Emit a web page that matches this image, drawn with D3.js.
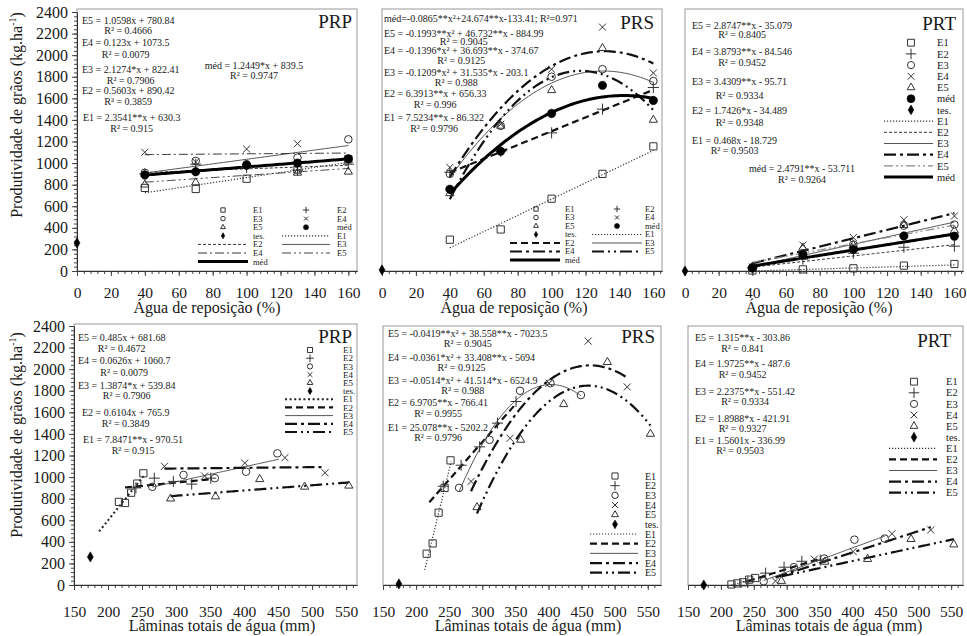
<!DOCTYPE html>
<html>
<head>
<meta charset="utf-8">
<script src="https://cdn.jsdelivr.net/npm/d3@7"></script>
<style>
  body { margin: 0; background: #fff; }
  text { font-family: "Liberation Serif", "Times New Roman", serif; fill: #1a1a1a; }
</style>
</head>
<body>
<script>
// ---------------- data ----------------
const reposicao = [40, 70, 100, 130, 160];          // água de reposição (%)
const reposicaoTes = 0;
const laminaE1 = [216, 225, 234, 243, 252];          // lâminas totais (mm)
const laminaE2 = [241, 268, 296, 323, 351];
const laminaE3 = [265, 311, 357, 403, 449];
const laminaE4 = [283, 342, 401, 460, 519];
const laminaE5 = [292, 358, 423, 489, 554];
const laminaTes = 174;

const prpE1 = [770, 760, 855, 940, 1035];
const prpE2 = [900, 990, 960, 935, 990];
const prpE3 = [910, 1020, 990, 1050, 1220];
const prpE4 = [1100, 1010, 1130, 1180, 1040];
const prpE5 = [800, 820, 980, 910, 920];
const prpMed = [890, 920, 980, 1000, 1040];
const prpTes = 260;

const prsE1 = [290, 385, 670, 900, 1155];
const prsE2 = [915, 1110, 1280, 1500, 1700];
const prsE3 = [900, 1345, 1800, 1870, 1760];
const prsE4 = [960, 1360, 1870, 2260, 1835];
const prsE5 = [720, 1345, 1675, 2065, 1400];
const prsMed = [757, 1110, 1460, 1720, 1580];
const prsTes = 10;

const prtE1 = [5, 15, 25, 50, 65];
const prtE2 = [30, 110, 165, 220, 230];
const prtE3 = [35, 165, 245, 420, 430];
const prtE4 = [37, 240, 310, 475, 510];
const prtE5 = [37, 215, 240, 425, 375];
const prtMed = [28, 150, 200, 325, 322];
const prtTes = 0;

// fitted polynomials, highest power first; order E1..E5 (, méd)
const fitPrpRep = [[2.3541, 630.3], [0.5603, 890.42], [2.1274, 822.41], [0.123, 1073.5], [1.0598, 780.84], [1.2449, 839.5]];
const fitPrsRep = [[7.5234, -86.322], [6.3913, 656.33], [-0.1209, 31.535, -203.1], [-0.1396, 36.693, -374.67], [-0.1993, 46.732, -884.99], [-0.0865, 24.674, -133.41]];
const fitPrtRep = [[0.468, -18.729], [1.7426, -34.489], [3.4309, -95.71], [3.8793, -84.546], [2.8747, -35.079], [2.4791, -53.711]];
const fitPrpLam = [[7.8471, -970.51], [0.6104, 765.9], [1.3874, 539.84], [0.0626, 1060.7], [0.485, 681.68]];
const fitPrsLam = [[25.078, -5202.2], [6.9705, -766.41], [-0.0514, 41.514, -6524.9], [-0.0361, 33.408, -5694], [-0.0419, 38.558, -7023.5]];
const fitPrtLam = [[1.5601, -336.99], [1.8988, -421.91], [2.2375, -551.42], [1.9725, -487.6], [1.315, -303.86]];

// x extent of each fitted curve
const spanRep = [40, 160];
const spanPrpLam = [[187, 254], [225, 352], [265, 451], [283, 515], [292, 554]];
const spanPrsLam = [[213, 253], [220, 352], [265, 449], [283, 519], [292, 554]];
const spanPrtLam = [[216, 252], [241, 351], [265, 449], [283, 519], [292, 554]];

// equation labels (E5 first, as listed on the plots)
const eqPrpRep = ["E5 = 1.0598x + 780.84", "E4 = 0.123x + 1073.5", "E3 = 2.1274*x + 822.41", "E2 = 0.5603x + 890.42", "E1 = 2.3541**x + 630.3", "méd = 1.2449*x + 839.5"];
const r2PrpRep = ["0.4666", "0.0079", "0.7906", "0.3859", "0.915", "0.9747"];
const eqPrsRep = ["E5 = -0.1993**x² + 46.732**x - 884.99", "E4 = -0.1396*x² + 36.693**x - 374.67", "E3 = -0.1209*x² + 31.535*x - 203.1", "E2 = 6.3913**x + 656.33", "E1 = 7.5234**x - 86.322", "méd=-0.0865**x²+24.674**x-133.41; R²=0.971"];
const r2PrsRep = ["0.9045", "0.9125", "0.988", "0.996", "0.9796", null];
const eqPrtRep = ["E5 = 2.8747**x - 35.079", "E4 = 3.8793**x - 84.546", "E3 = 3.4309**x - 95.71", "E2 = 1.7426*x - 34.489", "E1 = 0.468x - 18.729", "méd = 2.4791**x - 53.711"];
const r2PrtRep = ["0.8405", "0.9452", "0.9334", "0.9348", "0.9503", "0.9264"];
const eqPrpLam = ["E5 = 0.485x + 681.68", "E4 = 0.0626x + 1060.7", "E3 = 1.3874*x + 539.84", "E2 = 0.6104x + 765.9", "E1 = 7.8471**x - 970.51"];
const r2PrpLam = ["0.4672", "0.0079", "0.7906", "0.3849", "0.915"];
const eqPrsLam = ["E5 = -0.0419**x² + 38.558**x - 7023.5", "E4 = -0.0361*x² + 33.408**x - 5694", "E3 = -0.0514*x² + 41.514*x - 6524.9", "E2 = 6.9705**x - 766.41", "E1 = 25.078**x - 5202.2"];
const r2PrsLam = ["0.9045", "0.9125", "0.988", "0.9955", "0.9796"];
const eqPrtLam = ["E5 = 1.315**x - 303.86", "E4 = 1.9725**x - 487.6", "E3 = 2.2375**x - 551.42", "E2 = 1.8988*x - 421.91", "E1 = 1.5601x - 336.99"];
const r2PrtLam = ["0.841", "0.9452", "0.9334", "0.9327", "0.9503"];

// ticks
const xTicksRep = [0, 20, 40, 60, 80, 100, 120, 140, 160];
const xTicksLam = [150, 200, 250, 300, 350, 400, 450, 500, 550];
const yTicks = [0, 200, 400, 600, 800, 1000, 1200, 1400, 1600, 1800, 2000, 2200, 2400];
const seriesLabels = ["E1", "E2", "E3", "E4", "E5"];

// ---------------- styles ----------------
const FONT = '"Liberation Serif", "Times New Roman", serif';
const LS = {
  dot:      { w: 1.2, dash: "1.2,1.8", c: "#333" },
  dotB:     { w: 2,   dash: "2,2.6",   c: "#222" },
  dashThin: { w: 1,   dash: "3,2",     c: "#333" },
  dashThick:{ w: 2.2, dash: "7,4",     c: "#111" },
  solid:    { w: 1,   dash: null,      c: "#555" },
  ddThin:   { w: 1,   dash: "9,3,2,3", c: "#333" },
  ddThick:  { w: 2.2, dash: "12,4,3,4", c: "#111" },
  dddThin:  { w: 1,   dash: "9,3,2,3,2,3", c: "#444" },
  dddGray:  { w: 1.2, dash: "9,3,2,3,2,3", c: "#888" },
  dddThick: { w: 2.2, dash: "12,4,2,4,2,4", c: "#111" },
  med:      { w: 3,   dash: null,      c: "#000" }
};
const markerKinds = ["square", "plus", "circle", "times", "triangle"];
const symTypes = {
  square:   [d3.symbolSquare2, 66, false],
  plus:     [d3.symbolPlus, 42, false],
  circle:   [d3.symbolCircle, 45, false],
  times:    [d3.symbolTimes, 34, false],
  triangle: [d3.symbolTriangle2, 48, false],
  dot:      [d3.symbolCircle, 55, true],
  tes:      [d3.symbolDiamond, 30, true]
};

const svg = d3.select("body").append("svg").attr("width", 967).attr("height", 636);

function poly(c, v) { return c.reduce((acc, k) => acc * v + k, 0); }

function drawSymbol(g, kind, cx, cy, s) {
  const [type, size, filled] = symTypes[kind];
  g.append("path")
    .attr("transform", `translate(${cx},${cy})`)
    .attr("d", d3.symbol().type(type).size(size * s * s)())
    .attr("fill", filled ? "#000" : "none")
    .attr("stroke", filled ? "#000" : "#333")
    .attr("stroke-width", filled ? 0.6 : 1);
}

function styleLine(sel, st) {
  sel.attr("fill", "none").attr("stroke", st.c).attr("stroke-width", st.w)
     .attr("stroke-dasharray", st.dash);
}

function drawPanel(p) {
  const g = svg.append("g");
  const x = d3.scaleLinear().domain(p.xDomain).range([p.left, p.right]);
  const y = d3.scaleLinear().domain([0, 2400]).range(p.yRange);

  // frame
  g.append("rect").attr("x", p.left).attr("y", p.top)
    .attr("width", p.right - p.left).attr("height", p.yRange[0] - p.top)
    .attr("fill", "none").attr("stroke", "#999").attr("stroke-width", 1);

  // x axis
  const xMinor = g.append("g").attr("transform", `translate(0,${y(0)})`)
    .call(d3.axisBottom(x).tickValues(p.minor).tickSize(3).tickSizeOuter(0).tickFormat(""));
  const xMajor = g.append("g").attr("transform", `translate(0,${y(0)})`)
    .call(d3.axisBottom(x).tickValues(p.xTicks).tickSize(5).tickSizeOuter(0).tickPadding(p.labelPad).tickFormat(d3.format("d")));
  [xMinor, xMajor].forEach(a => { a.selectAll("line").attr("stroke", "#444"); a.select(".domain").attr("stroke", "#333"); });
  xMajor.selectAll("text").attr("font-family", FONT).attr("font-size", 15.5).attr("fill", "#111");

  // y axis on the left column
  if (p.yAxis) {
    const yMinor = g.append("g").attr("transform", `translate(${p.left},0)`)
      .call(d3.axisLeft(y).tickValues(d3.range(0, 2401, 40)).tickSize(3).tickSizeOuter(0).tickFormat(""));
    const yMajor = g.append("g").attr("transform", `translate(${p.left},0)`)
      .call(d3.axisLeft(y).tickValues(yTicks).tickSize(5).tickSizeOuter(0).tickPadding(4).tickFormat(d3.format("d")));
    [yMinor, yMajor].forEach(a => { a.selectAll("line").attr("stroke", "#444"); a.select(".domain").attr("stroke", "#333"); });
    yMajor.selectAll("text").attr("font-family", FONT).attr("font-size", 16).attr("fill", "#111");
    // axis title
    const t = g.append("text")
      .attr("transform", `translate(22,${p.yTitleY}) rotate(-90)`)
      .attr("text-anchor", "middle").attr("font-size", 16);
    t.append("tspan").text("Produtividade de grãos (kg.ha");
    t.append("tspan").attr("dy", -6).attr("font-size", 10).text("-1");
    t.append("tspan").attr("dy", 6).text(")");
  }

  // x axis title
  g.append("text").attr("x", p.xTitle[0]).attr("y", p.xTitle[1])
    .attr("text-anchor", "middle").attr("font-size", 16).text(p.xTitleText);

  // fitted curves
  const line = d3.line().x(d => x(d[0])).y(d => y(d[1]));
  p.fits.forEach((c, i) => {
    const [a, b] = p.spans[i];
    const pts = d3.range(0, 81).map(k => { const v = a + (b - a) * k / 80; return [v, poly(c, v)]; });
    g.append("path").attr("d", line(pts)).call(styleLine, p.styles[i]);
  });

  // observed points
  p.series.forEach((s) => {
    s.vals.forEach((v, j) => drawSymbol(g, s.kind, x(s.xs[j]), y(v), 1));
  });
  drawSymbol(g, "tes", x(p.tes[0]), y(p.tes[1]), 1);

  // title
  g.append("text").attr("x", p.titlePos[0]).attr("y", p.titlePos[1])
    .attr("text-anchor", "end").attr("font-size", 19).text(p.title);

  // equations
  p.eqs.forEach((e, i) => {
    const pos = p.eqPos[i];
    const t = g.append("text").attr("font-size", 10).text(e)
      .attr("x", pos[0]).attr("y", pos[1]).attr("text-anchor", pos[3] ? "middle" : "start");
    if (p.r2[i] != null) {
      const w = t.node().getComputedTextLength();
      const cx = pos[3] ? pos[0] : pos[0] + w / 2;
      g.append("text").attr("font-size", 10).attr("x", cx).attr("y", pos[2])
        .attr("text-anchor", "middle").text("R² = " + p.r2[i]);
    }
  });

  // legend
  const L = p.legend;
  L.items.forEach((it, i) => {
    const col = i % L.ncol, row = Math.floor(i / L.ncol);
    const [sx, lx0, lx1, tx] = L.cols[col];
    const yy = L.y0 + row * L.dy;
    if (it.kind) drawSymbol(g, it.kind, sx, yy, L.symScale);
    else g.append("path").attr("d", d3.line()([[lx0, yy], [lx1, yy]])).call(styleLine, it.style);
    g.append("text").attr("x", tx).attr("y", yy).attr("dy", "0.35em")
      .attr("font-size", L.font).text(it.label);
  });
}

function topSeries(e1, e2, e3, e4, e5, med) {
  return [e1, e2, e3, e4, e5].map((v, i) => ({ kind: markerKinds[i], xs: reposicao, vals: v }))
    .concat([{ kind: "dot", xs: reposicao, vals: med }]);
}
function bottomSeries(e1, e2, e3, e4, e5) {
  const xs = [laminaE1, laminaE2, laminaE3, laminaE4, laminaE5];
  return [e1, e2, e3, e4, e5].map((v, i) => ({ kind: markerKinds[i], xs: xs[i], vals: v }));
}
function topLegend(styles, ncol, cols, y0, dy, font, symScale) {
  const items = seriesLabels.map((l, i) => ({ kind: markerKinds[i], label: l }))
    .concat([{ kind: "dot", label: "méd" }, { kind: "tes", label: "tes." }])
    .concat(seriesLabels.map((l, i) => ({ style: styles[i], label: l })))
    .concat([{ style: styles[5], label: "méd" }]);
  return { items, ncol, cols, y0, dy, font, symScale };
}
function bottomLegend(styles, cols, y0, dy, font, symScale) {
  const items = seriesLabels.map((l, i) => ({ kind: markerKinds[i], label: l }))
    .concat([{ kind: "tes", label: "tes." }])
    .concat(seriesLabels.map((l, i) => ({ style: styles[i], label: l })));
  return { items, ncol: 1, cols, y0, dy, font, symScale };
}

const repMinor = d3.range(0, 165, 4);
const lamMinor = d3.range(150, 566, 10);
const topY = [271, 12], botY = [585, 326];
const repSpans = (n) => d3.range(n).map(() => spanRep);

// ---- top row: água de reposição ----
const st1 = [LS.dot, LS.dashThin, LS.solid, LS.ddThin, LS.dddThin, LS.med];
drawPanel({
  left: 77, right: 357, top: 9, yRange: topY, xDomain: [0, 165.1], xTicks: xTicksRep, minor: repMinor,
  labelPad: 10.8, yAxis: true, yTitleY: 115, xTitle: [207, 313], xTitleText: "Água de reposição (%)",
  fits: fitPrpRep, spans: repSpans(6), styles: st1,
  series: topSeries(prpE1, prpE2, prpE3, prpE4, prpE5, prpMed), tes: [reposicaoTes, prpTes],
  title: "PRP", titlePos: [352, 28],
  eqs: eqPrpRep, r2: r2PrpRep,
  eqPos: [[82, 23.5, 33.5], [82, 46, 57.5], [82, 73, 83.5], [82, 94, 105], [83, 121, 132], [254, 68.5, 78.5, true]],
  legend: topLegend(st1, 2, [[223, 198, 248, 253], [306, 282, 330, 337]], 210, 8.6, 8.5, 0.6)
});

const st2 = [LS.dot, LS.dashThick, LS.solid, LS.ddThick, LS.dddThick, LS.med];
drawPanel({
  left: 382, right: 662, top: 9, yRange: topY, xDomain: [0, 165.1], xTicks: xTicksRep, minor: repMinor,
  labelPad: 10.8, yAxis: false, xTitle: [514, 313], xTitleText: "Água de reposição (%)",
  fits: fitPrsRep, spans: repSpans(6), styles: st2,
  series: topSeries(prsE1, prsE2, prsE3, prsE4, prsE5, prsMed), tes: [reposicaoTes, prsTes],
  title: "PRS", titlePos: [654, 29],
  eqs: eqPrsRep, r2: r2PrsRep,
  eqPos: [[384, 36.5, 45], [384, 54, 63.5], [384, 76, 86], [384, 97, 107.5], [384, 121, 131.5], [384, 22, 0]],
  legend: topLegend(st2, 2, [[536, 510, 560, 565], [617, 592, 642, 645]], 209, 8.5, 8.5, 0.6)
});

const st3 = [LS.dot, LS.dashThin, LS.solid, LS.ddThick, LS.dddGray, LS.med];
drawPanel({
  left: 685, right: 963, top: 9, yRange: topY, xDomain: [0, 165.1], xTicks: xTicksRep, minor: repMinor,
  labelPad: 10.8, yAxis: false, xTitle: [819, 313], xTitleText: "Água de reposição (%)",
  fits: fitPrtRep, spans: repSpans(6), styles: st3,
  series: topSeries(prtE1, prtE2, prtE3, prtE4, prtE5, prtMed), tes: [reposicaoTes, prtTes],
  title: "PRT", titlePos: [956, 30],
  eqs: eqPrtRep, r2: r2PrtRep,
  eqPos: [[692, 28.5, 38], [692, 55, 66], [692, 85, 98.5], [692, 113.5, 126], [692, 143.5, 153.5], [802, 172, 182.5, true]],
  legend: topLegend(st3, 1, [[911, 884, 933, 937]], 42.7, 11.2, 10.5, 0.95)
});

// ---- bottom row: lâminas totais ----
const st4 = [LS.dotB, LS.dashThick, LS.solid, LS.ddThick, LS.dddThick];
drawPanel({
  left: 74, right: 357, top: 324, yRange: botY, xDomain: [150, 566], xTicks: xTicksLam, minor: lamMinor,
  labelPad: 15.8, yAxis: true, yTitleY: 435, xTitle: [222, 631], xTitleText: "Lâminas totais de água (mm)",
  fits: fitPrpLam, spans: spanPrpLam, styles: st4,
  series: bottomSeries(prpE1, prpE2, prpE3, prpE4, prpE5), tes: [laminaTes, prpTes],
  title: "PRP", titlePos: [352, 343],
  eqs: eqPrpLam, r2: r2PrpLam,
  eqPos: [[78, 341, 352], [78, 364, 376], [78, 388.5, 399], [82, 416, 427], [83, 443, 453.5]],
  legend: bottomLegend(st4, [[310, 285, 333, 343]], 350, 8.2, 9, 0.7)
});

const st5 = [LS.dot, LS.dashThick, LS.solid, LS.ddThick, LS.dddThick];
drawPanel({
  left: 383, right: 661, top: 326, yRange: botY, xDomain: [150, 570], xTicks: xTicksLam, minor: lamMinor,
  labelPad: 15.8, yAxis: false, xTitle: [528, 631], xTitleText: "Lâminas totais de água (mm)",
  fits: fitPrsLam, spans: spanPrsLam, styles: st5,
  series: bottomSeries(prsE1, prsE2, prsE3, prsE4, prsE5), tes: [laminaTes, prsTes],
  title: "PRS", titlePos: [655, 343],
  eqs: eqPrsLam, r2: r2PrsLam,
  eqPos: [[388, 337, 347], [388, 361, 371], [388, 383.5, 394], [388, 406, 417], [388, 431, 441]],
  legend: bottomLegend(st5, [[615, 590, 638, 645]], 476, 9.67, 10, 0.85)
});

drawPanel({
  left: 688, right: 963, top: 326, yRange: botY, xDomain: [150, 568], xTicks: xTicksLam, minor: lamMinor,
  labelPad: 15.8, yAxis: false, xTitle: [829, 631], xTitleText: "Lâminas totais de água (mm)",
  fits: fitPrtLam, spans: spanPrtLam, styles: st5,
  series: bottomSeries(prtE1, prtE2, prtE3, prtE4, prtE5), tes: [laminaTes, prtTes],
  title: "PRT", titlePos: [951, 347],
  eqs: eqPrtLam, r2: r2PrtLam,
  eqPos: [[695, 341, 352], [695, 367, 378], [695, 394.5, 404.5], [695, 422, 432], [695, 443.5, 453.5]],
  legend: bottomLegend(st5, [[914, 889, 937, 946]], 381.7, 11.1, 10.5, 0.95)
});
</script>
</body>
</html>
